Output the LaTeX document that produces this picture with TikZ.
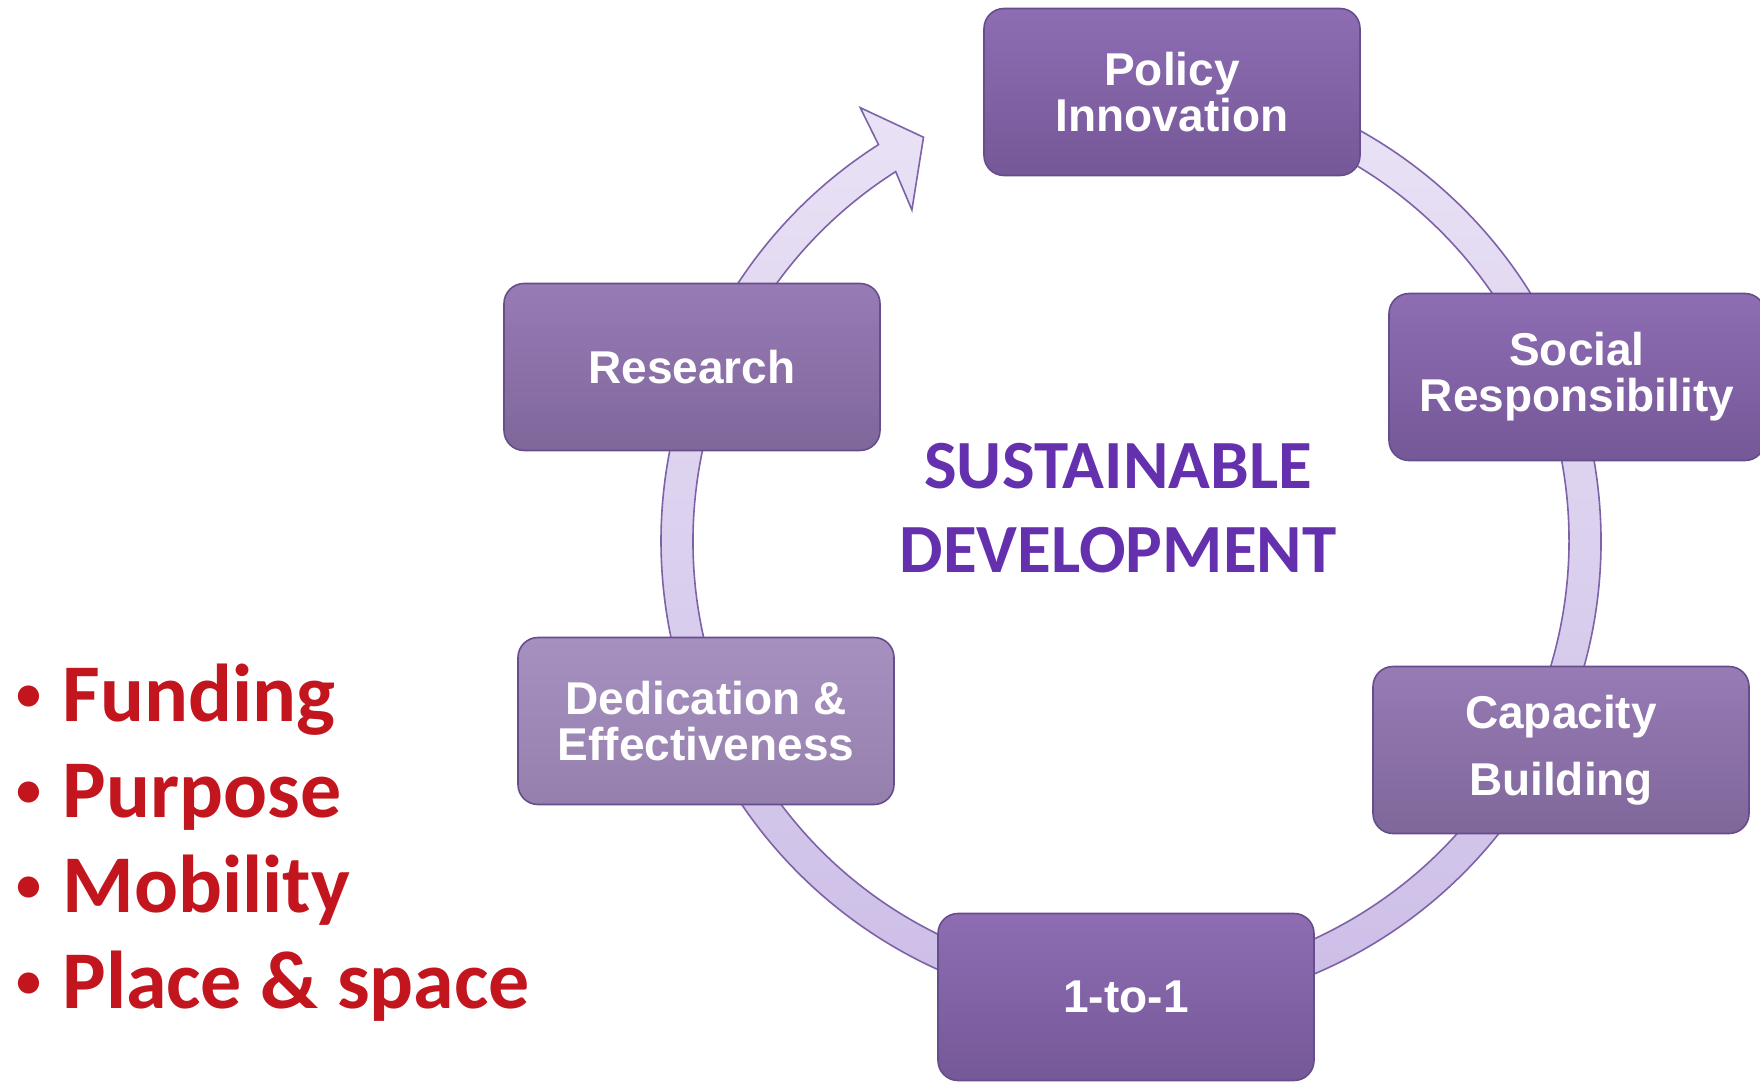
\documentclass[tikz,border=0pt]{standalone}
\usepackage{fontspec}
\setmainfont{Liberation Sans}
\newfontfamily\calibri{Carlito}
\usetikzlibrary{calc,positioning}
\definecolor{ringtop}{HTML}{EBE4F6}
\definecolor{ringbot}{HTML}{CBBCE6}
\definecolor{ringline}{HTML}{7D62A8}
\definecolor{boxtop}{HTML}{8E6DB3}
\definecolor{boxbot}{HTML}{755898}
\definecolor{boxline}{HTML}{664D8C}
\definecolor{palltop}{HTML}{A690C0}
\definecolor{pallbot}{HTML}{9580AD}
\definecolor{softtop}{HTML}{977BB5}
\definecolor{softbot}{HTML}{7F679A}
\definecolor{titlepurple}{HTML}{6430AE}
\definecolor{listred}{HTML}{C3151D}
\newcommand{\dotitem}{\makebox[23pt][l]{\raisebox{5.5pt}{\fontsize{25}{25}\selectfont\textbullet}}}
\tikzset{
  cyclebox/.style={draw=boxline, line width=0.8pt, rounded corners=10pt,
    minimum width=188pt, minimum height=83.5pt, inner sep=0pt,
    top color=boxtop, bottom color=boxbot, text=white, align=center,
    font=\fontsize{23}{23}\selectfont\bfseries},
  softbox/.style={top color=softtop, bottom color=softbot},
  pallbox/.style={top color=palltop, bottom color=pallbot},
}
\begin{document}
\begin{tikzpicture}[x=0.5pt,y=-0.5pt]
  \useasboundingbox (0,0) rectangle (1760,1081);
  \clip (0,0) rectangle (1760,1081);
  % circular arrow behind the boxes
  \begin{scope}[shift={(1131,541)}]
    \shadedraw[top color=ringtop, bottom color=ringbot, draw=ringline, line width=0.8pt]
      (-95:470) arc[start angle=-95, end angle=237.5, radius=470]
      -- (238:511) -- (242.8:454) -- (236.5:397) -- (237.5:438)
      arc[start angle=237.5, end angle=-95, radius=438] -- cycle;
  \end{scope}
  % the six steps
  \node[cyclebox] (pol) at (1172,92) {Policy\\Innovation};
  \node[cyclebox] (soc) at (1577,377) {Social\\Responsibility};
  \node[cyclebox, softbox] (cap) at (1561,750) {Capacity\\[10.5pt]Building};
  \node[cyclebox] (one) at (1126,997) {1-to-1};
  \node[cyclebox, pallbox] (ded) at (706,721) {Dedication \&\\Effectiveness};
  \node[cyclebox, softbox] (res) at (692,367) {Research};
  % centre title
  \node[font=\calibri\fontsize{34.5}{42}\selectfont\bfseries, text=titlepurple,
    align=center, inner sep=0pt] (sd) at (1118,508) {SUSTAINABLE\\DEVELOPMENT};
  % list on the left
  \node[font=\calibri\fontsize{41}{47.75}\selectfont\bfseries, text=listred,
    align=left, anchor=base west, inner sep=0pt] (list) at (16,1008)
    {\dotitem Funding\\\dotitem Purpose\\\dotitem Mobility\\\dotitem Place \& space};
\end{tikzpicture}
\end{document}
